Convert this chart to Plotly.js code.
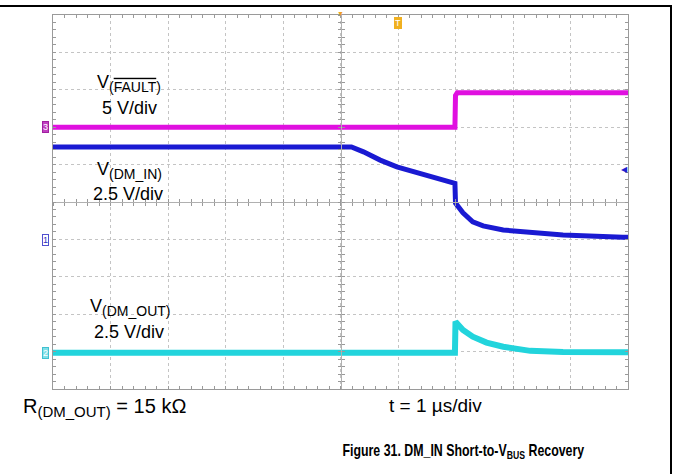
<!DOCTYPE html>
<html><head><meta charset="utf-8">
<script src="https://cdn.plot.ly/plotly-3.0.1.min.js"></script>
<style>html,body{margin:0;padding:0;background:#fff}#g{width:673px;height:474px}</style>
</head><body><div id="g"></div>
<script>
// time in µs (1 µs/div), vertical position in screen divisions
var faultT = [-5, 1.99, 2.0, 2.03, 5];
var faultV = [2.0, 2.0, 2.85, 2.92, 2.92];

var dmInT = [-5, 0.19, 0.40, 0.69, 0.98, 1.27, 1.56, 1.96, 1.99, 2.0, 2.13, 2.30, 2.48, 2.83, 3.30, 3.87, 4.91, 5];
var dmInV = [1.47, 1.47, 1.34, 1.12, 0.94, 0.81, 0.68, 0.52, 0.50, -0.03, -0.29, -0.53, -0.64, -0.75, -0.80, -0.88, -0.94, -0.94];

var dmOutT = [-5, 1.99, 2.0, 2.13, 2.30, 2.54, 2.83, 3.30, 3.87, 4.91, 5];
var dmOutV = [-4.03, -4.03, -3.20, -3.42, -3.60, -3.76, -3.87, -3.98, -4.01, -4.02, -4.02];

var L = 53, R = 628, T = 15, B = 389;
function PX(p){return (p - L)/(R - L);}
function PY(p){return (B - p)/(B - T);}

var traces = [
  {x: faultT, y: faultV, mode:'lines', line:{color:'#e010e0', width:5}, xaxis:'x', yaxis:'y'},
  {x: dmInT, y: dmInV, mode:'lines', line:{color:'#1a1ad2', width:5}, xaxis:'x', yaxis:'y'},
  {x: dmOutT, y: dmOutV, mode:'lines', line:{color:'#22d4dc', width:6}, xaxis:'x', yaxis:'y'},
  {x: [], y: [], xaxis:'x2', yaxis:'y2', showlegend:false},
  {x: [], y: [], xaxis:'x3', yaxis:'y3', showlegend:false}
];

var baseAx = {range:[-5,5], dtick:1, showticklabels:false, zeroline:false, fixedrange:true};
var gridAx = Object.assign({}, baseAx, {
  showgrid:true, gridcolor:'#c4c4c4', griddash:'dot', gridwidth:1,
  showline:true, linecolor:'#9a9a9a', linewidth:1, mirror:'ticks',
  ticks:'inside', ticklen:3, tickcolor:'#9a9a9a',
  minor:{dtick:0.2, ticks:'inside', ticklen:3, tickcolor:'#9a9a9a', showgrid:false}
});
function centerAx(dir, ov){
  return Object.assign({}, baseAx, {
    overlaying: ov, anchor:'free', position:0.5, showgrid:false,
    showline:true, linecolor:'#b0b0b0', linewidth:1,
    ticks:dir, ticklen:3, tickcolor:'#999',
    minor:{dtick:0.2, ticks:dir, ticklen:3, tickcolor:'#999', showgrid:false}
  });
}

var FONT = 'Liberation Sans, Arial, sans-serif';
var ann = [];
function A(text, x, y, opts){
  ann.push(Object.assign({text:text, x:PX(x), y:PY(y), xref:'paper', yref:'paper',
    showarrow:false, xanchor:'left', yanchor:'middle',
    font:{family:FONT, size:18, color:'#000'}}, opts||{}));
}
function S(t, sz){ return '<sub><span style="font-size:' + sz + 'px">' + t + '</span></sub>'; }
A('V<sub><span style="font-size:14px">(<span style="text-decoration:overline">FAULT</span>)</span></sub>', 95, 84);
A('5 V/div', 129, 108, {xanchor:'center'});
A('V' + S('(DM_IN)', 14), 95, 170);
A('2.5 V/div', 128, 194, {xanchor:'center'});
A('V' + S('(DM_OUT)', 14), 88, 307);
A('2.5 V/div', 129, 332, {xanchor:'center'});
A('R' + S('(DM_OUT)', 15) + '\u00a0=\u00a015\u00a0kΩ', 21, 407, {font:{family:FONT, size:20, color:'#000'}});
A('t = 1 µs/div', 387, 405, {font:{family:FONT, size:19, color:'#000'}});
A('<b>Figure 31. DM_IN Short-to-V<sub>BUS</sub> Recovery</b>', 463, 451,
  {xanchor:'center', font:{family:FONT, size:16, color:'#000'}});

// channel markers
function M(t, x, y, fg, bg, bd){
  ann.push({text:t, x:PX(x), y:PY(y), xref:'paper', yref:'paper', showarrow:false,
    xanchor:'center', yanchor:'middle', font:{family:FONT, size:9, color:fg},
    bgcolor:bg, bordercolor:bd, borderwidth:1, borderpad:0});
}
M('3', 45, 127, '#fff', '#c040c0', '#a020a0');
M('1', 45, 240, '#3030c0', '#fff', '#5050d0');
M('2', 45, 353, '#fff', '#80e0e8', '#40c0d0');
M('T', 398, 23, '#fff', '#f0b020', '#f0b020');
ann.push({text:'◀', x:PX(624), y:PY(168), xref:'paper', yref:'paper', showarrow:false,
  xanchor:'center', yanchor:'middle', font:{size:8, color:'#2020d0'}});
ann.push({text:'▼', x:0.5, y:PY(14), xref:'paper', yref:'paper', showarrow:false,
  xanchor:'center', yanchor:'middle', font:{size:7, color:'#f0a020'}});

var shapes = [
  {type:'line', xref:'paper', yref:'paper', x0:PX(0), x1:PX(672), y0:PY(6), y1:PY(6), line:{color:'#000', width:2}},
  {type:'line', xref:'paper', yref:'paper', x0:PX(671), x1:PX(671), y0:PY(6), y1:PY(474), line:{color:'#000', width:2}}
];

var layout = {
  width:673, height:474, margin:{l:L, r:673-R, t:T, b:474-B},
  paper_bgcolor:'#fff', plot_bgcolor:'#fff', showlegend:false,
  xaxis: gridAx, yaxis: gridAx,
  xaxis2: centerAx('inside','x'), yaxis2: centerAx('inside','y'),
  xaxis3: centerAx('outside','x'), yaxis3: centerAx('outside','y'),
  annotations: ann, shapes: shapes
};
Plotly.newPlot('g', traces, layout, {staticPlot:true, displayModeBar:false}).then(function(gd){
  // the caption font in the reference is a condensed bold face: compress it horizontally
  gd.querySelectorAll('.annotation-text').forEach(function(t){
    if (t.textContent.indexOf('Figure 31') === 0) {
      var bb = t.getBBox(), cx = bb.x + bb.width / 2, k = 242 / bb.width;
      t.setAttribute('transform', 'translate(' + cx + ',0) scale(' + k + ',1) translate(' + (-cx) + ',0)');
    }
  });
});
</script></body></html>
